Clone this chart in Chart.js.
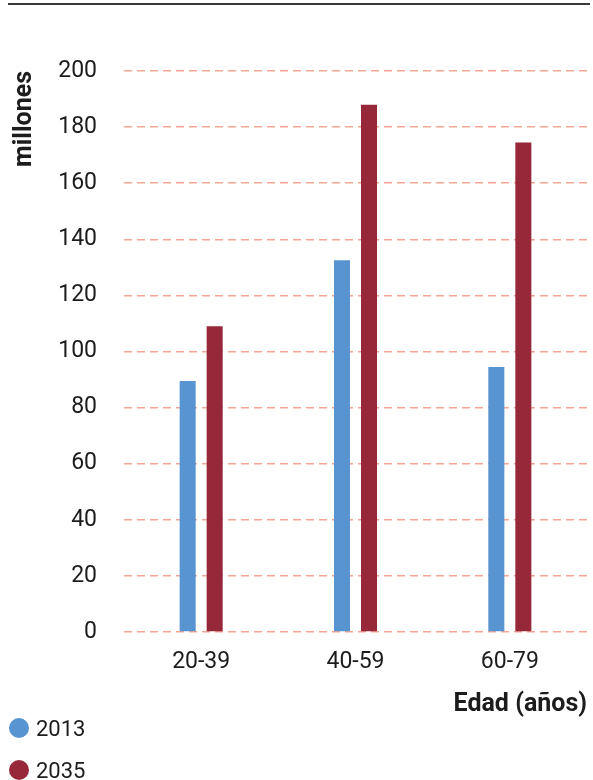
<!DOCTYPE html>
<html lang="es">
<head>
<meta charset="utf-8">
<title>Población por edad (millones)</title>
<script src="https://cdn.jsdelivr.net/npm/chart.js@4/dist/chart.umd.min.js"></script>
<style>
  html, body { margin: 0; padding: 0; background: #fff; }
  #wrap { position: relative; width: 593px; height: 780px; overflow: hidden; }
  #rule { position: absolute; left: 8px; top: 3px; width: 582px; height: 2px; background: #3a3a3a; }
  #legend { position: absolute; left: 9px; top: 714px; font-family: Roboto, "Noto Sans", sans-serif; font-size: 22px; color: #1c1c1c; }
  #legend .item { display: flex; align-items: center; height: 28px; margin-bottom: 14px; }
  #legend .dot { width: 20px; height: 20px; border-radius: 50%; margin-right: 7px; }
  canvas { display: block; }
</style>
</head>
<body>
<div id="wrap">
  <div id="rule"></div>
  <canvas id="chart" width="593" height="780"></canvas>
  <div id="legend"></div>
</div>
<script>
// Age groups and population (millions) per year
const categories = ['20-39', '40-59', '60-79'];
const seriesNames = ['2013', '2035'];
const values2013 = [89.5, 132.5, 94.5];
const values2035 = [109, 188, 174.5];
const yTicks = [0, 20, 40, 60, 80, 100, 120, 140, 160, 180, 200];

const colors = ['#5894d0', '#962839'];
const textColor = '#1c1c1c';
const font = 'Roboto, "Noto Sans", sans-serif';

const chart = new Chart(document.getElementById('chart'), {
  type: 'bar',
  data: {
    labels: categories,
    datasets: [
      { label: seriesNames[0], data: values2013, backgroundColor: colors[0] },
      { label: seriesNames[1], data: values2035, backgroundColor: colors[1] }
    ]
  },
  options: {
    responsive: false,
    animation: false,
    events: [],
    categoryPercentage: 0.35,
    barPercentage: 0.594,
    layout: { padding: { top: 71, right: 6, bottom: 48, left: 0 } },
    plugins: {
      legend: { display: false },
      tooltip: { enabled: false }
    },
    scales: {
      x: {
        grid: { display: false, drawTicks: false },
        border: { display: false },
        ticks: { color: textColor, font: { family: font, size: 23 }, padding: 16 },
        title: {
          display: true,
          text: 'Edad (años)',
          align: 'end',
          color: textColor,
          font: { family: font, size: 25, weight: 'bold' },
          padding: { top: 0, bottom: 12 }
        },
        afterFit(scale) { scale.height = 100; }
      },
      y: {
        min: 0,
        max: 200,
        afterBuildTicks(scale) { scale.ticks = yTicks.map(v => ({ value: v })); },
        grid: {
          drawTicks: false,
          color: '#f3a596',
          lineWidth: 1.5
        },
        border: { display: false, dash: [8, 5] },
        ticks: { color: textColor, font: { family: font, size: 23 }, padding: 27 },
        title: {
          display: true,
          text: 'millones',
          align: 'end',
          color: textColor,
          font: { family: font, size: 25, weight: 'bold' },
          padding: { top: 10, bottom: 0 }
        },
        afterFit(scale) { scale.width = 124; }
      }
    }
  }
});

// Legend built from the chart's datasets
const legendEl = document.getElementById('legend');
chart.data.datasets.forEach(ds => {
  const item = document.createElement('div');
  item.className = 'item';
  const dot = document.createElement('span');
  dot.className = 'dot';
  dot.style.background = ds.backgroundColor;
  const label = document.createElement('span');
  label.textContent = ds.label;
  item.appendChild(dot);
  item.appendChild(label);
  legendEl.appendChild(item);
});
</script>
</body>
</html>
